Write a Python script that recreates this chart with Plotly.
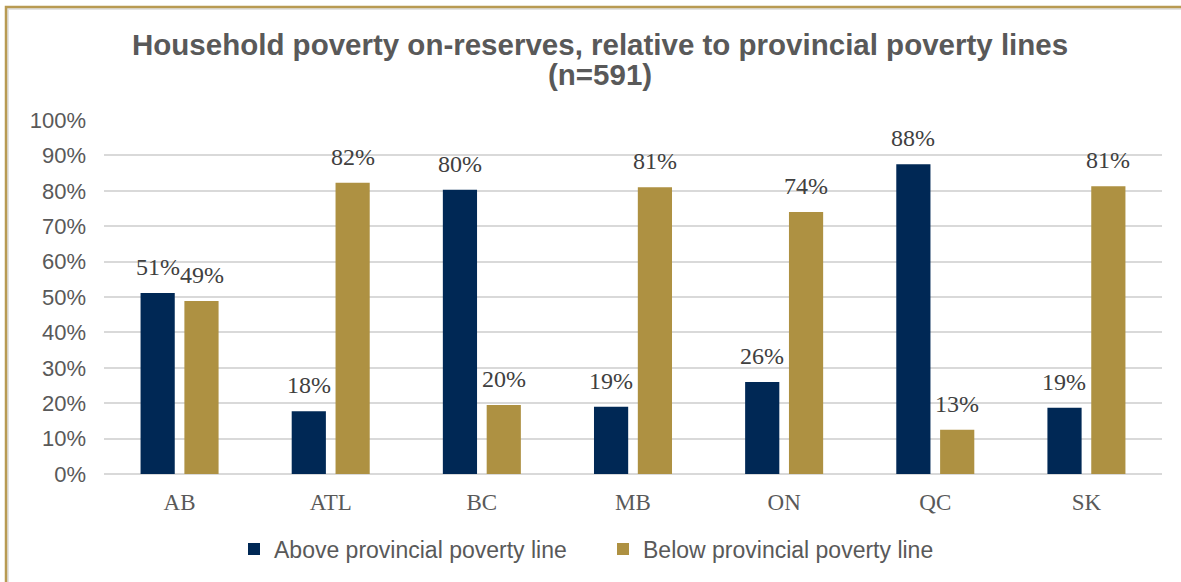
import plotly.graph_objects as go

categories = ["AB", "ATL", "BC", "MB", "ON", "QC", "SK"]
above = [0.511, 0.177, 0.803, 0.190, 0.260, 0.875, 0.187]
below = [0.489, 0.823, 0.195, 0.810, 0.740, 0.125, 0.813]
above_labels = ["51%", "18%", "80%", "19%", "26%", "88%", "19%"]
below_labels = ["49%", "82%", "20%", "81%", "74%", "13%", "81%"]
y_ticks = [i / 10 for i in range(11)]
y_tick_labels = [f"{i*10}%" for i in range(11)]
title_lines = ["Household poverty on-reserves, relative to provincial poverty lines", "(n=591)"]

NAVY = "#002855"
GOLD = "#ae9142"
TXT = "#595959"

lbl_font = dict(family="Liberation Serif", size=24, color="#404040")

fig = go.Figure()
fig.add_trace(go.Bar(x=categories, y=above, name="Above provincial poverty line",
                     marker=dict(color=NAVY, line=dict(width=0))))
fig.add_trace(go.Bar(x=categories, y=below, name="Below provincial poverty line",
                     marker=dict(color=GOLD, line=dict(width=0))))

# data labels above each bar
for vals, labels, dx in [(above, above_labels, -22), (below, below_labels, 22)]:
    for c, v, t in zip(categories, vals, labels):
        fig.add_annotation(x=c, y=v, xref="x", yref="y", text=t, showarrow=False,
                           xanchor="center", yanchor="bottom", xshift=dx, yshift=11,
                           font=lbl_font)

L, R, T, B = 104, 19, 120, 108
W, H = 1181, 582
pw, ph = W - L - R, H - T - B

def px_y(y):
    return (H - B - y) / ph

def px_x(x):
    return (x - L) / pw

fig.update_layout(
    width=W, height=H,
    margin=dict(l=L, r=R, t=T, b=B),
    paper_bgcolor="white", plot_bgcolor="white",
    barmode="group", bargap=0.42, bargroupgap=0.22,
    legend=dict(orientation="h", x=px_x(234), xanchor="left", y=px_y(549), yanchor="middle",
                font=dict(family="Liberation Sans", size=23, color=TXT),
                traceorder="normal", entrywidth=324, entrywidthmode="pixels"),
    showlegend=True,
)
title_font = dict(family="Liberation Sans", size=29.5, color=TXT, weight="bold")
for line, yc in zip(title_lines, [45, 75]):
    fig.add_annotation(text=line, xref="paper", yref="paper", x=px_x(600), y=px_y(yc),
                       xanchor="center", yanchor="middle", showarrow=False, font=title_font)

fig.update_yaxes(range=[0, 1], tickvals=y_ticks, ticktext=y_tick_labels,
                 showgrid=True, gridcolor="#d9d9d9", gridwidth=1.5,
                 zeroline=True, zerolinecolor="#d9d9d9", zerolinewidth=1.5,
                 ticks="", ticklabelstandoff=17,
                 tickfont=dict(family="Liberation Sans", size=22, color=TXT))
fig.update_xaxes(showline=False, ticks="", ticklabelstandoff=12,
                 tickfont=dict(family="Liberation Serif", size=23, color=TXT))

# outer frame (gold border with light shadow)
fig.add_shape(type="rect", xref="paper", yref="paper",
              x0=px_x(8), x1=1.2, y0=-0.6, y1=px_y(9),
              line=dict(color="#e3e3e3", width=2), fillcolor="rgba(0,0,0,0)", layer="below")
fig.add_shape(type="rect", xref="paper", yref="paper",
              x0=px_x(6), x1=1.2, y0=-0.6, y1=px_y(7),
              line=dict(color="#b89a52", width=2.5), fillcolor="rgba(0,0,0,0)", layer="below")

fig.write_html("out.html", config={"displayModeBar": False},
               post_script="document.body.style.margin='0';")
